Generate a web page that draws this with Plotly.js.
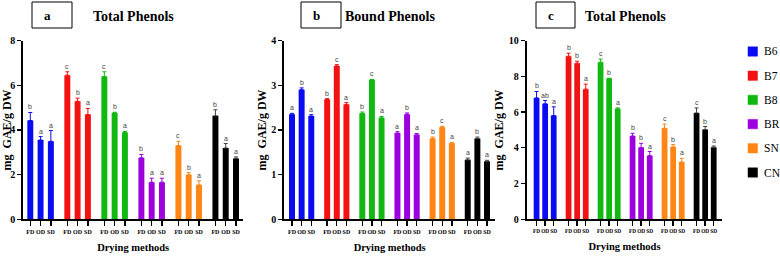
<!DOCTYPE html>
<html>
<head>
<meta charset="utf-8">
<script src="https://cdn.plot.ly/plotly-3.0.1.min.js"></script>
<style>html,body{margin:0;padding:0;background:#fff;}#chart{width:780px;height:257px;}</style>
</head>
<body>
<div id="chart"></div>
<script>
// ---- data ----
const methods = ['FD', 'OD', 'SD'];
const series = ['B6', 'B7', 'B8', 'BR', 'SN', 'CN'];
const colors = ['#0B0BF2', '#F21212', '#12B812', '#9C00DE', '#FF8514', '#000000'];

const panelTitles = ['Total Phenols', 'Bound Phenols', 'Total Phenols'];
const panelLetters = ['a', 'b', 'c'];

// panel a : Total Phenols (mg GAE/g DW)
const aMean = [[4.42, 3.55, 3.49], [6.45, 5.28, 4.69], [6.39, 4.76, 3.88], [2.75, 1.66, 1.66], [3.30, 1.99, 1.54], [4.63, 3.19, 2.72]];
const aErr  = [[0.36, 0.15, 0.48], [0.15, 0.14, 0.27], [0.21, 0.03, 0.05], [0.15, 0.18, 0.18], [0.19, 0.10, 0.18], [0.27, 0.20, 0.07]];
const aSig  = [['b', 'a', 'a'], ['c', 'b', 'a'], ['c', 'b', 'a'], ['b', 'a', 'a'], ['c', 'b', 'a'], ['b', 'a', 'a']];

// panel b : Bound Phenols
const bMean = [[2.35, 2.90, 2.31], [2.68, 3.43, 2.57], [2.37, 3.12, 2.27], [1.93, 2.35, 1.89], [1.81, 2.06, 1.70], [1.33, 1.81, 1.30]];
const bErr  = [[0.02, 0.04, 0.03], [0.02, 0.03, 0.04], [0.03, 0.01, 0.03], [0.03, 0.03, 0.03], [0.03, 0.02, 0.02], [0.04, 0.03, 0.02]];
const bSig  = [['a', 'b', 'a'], ['b', 'c', 'a'], ['b', 'c', 'a'], ['a', 'b', 'a'], ['b', 'c', 'a'], ['a', 'b', 'a']];

// panel c : Total Phenols
const cMean = [[6.79, 6.46, 5.80], [9.12, 8.73, 7.28], [8.79, 7.87, 6.18], [4.66, 4.01, 3.56], [5.09, 4.05, 3.21], [5.95, 5.02, 4.03]];
const cErr  = [[0.36, 0.18, 0.49], [0.17, 0.11, 0.28], [0.17, 0.02, 0.05], [0.15, 0.24, 0.23], [0.23, 0.13, 0.20], [0.28, 0.17, 0.07]];
const cSig  = [['b', 'ab', 'a'], ['b', 'b', 'a'], ['c', 'b', 'a'], ['b', 'b', 'a'], ['c', 'b', 'a'], ['c', 'b', 'a']];

const yMax = [8, 4, 10];
const yStep = [2, 1, 2];

// ---- layout helpers ----
const W = 780, H = 257;
const px = v => v / W;
const py = v => 1 - v / H;
const serif = 'Liberation Serif, Times New Roman, serif';

const panels = [
  {mean: aMean, err: aErr, sig: aSig, G: 3.6,  bw: 0.58, range: [-0.68, 20.68], dom: [23.3, 243],   title: 133,   box: [32, 72],   tf: 6},
  {mean: bMean, err: bErr, sig: bSig, G: 3.65, bw: 0.62, range: [-0.80, 21.08], dom: [284.3, 495],  title: 389.5, box: [301, 341], tf: 6},
  {mean: cMean, err: cErr, sig: cSig, G: 3.73, bw: 0.67, range: [-1.15, 21.65], dom: [526.7, 722.3], title: 625,  box: [536, 575], tf: 5.3}
];

const traces = [];
const annotations = [];
const shapes = [];
const layout = {
  width: W, height: H,
  margin: {l: 0, r: 0, t: 0, b: 0},
  paper_bgcolor: '#fff', plot_bgcolor: '#fff',
  showlegend: false,
  barmode: 'overlay',
  annotations: annotations,
  shapes: shapes
};

panels.forEach((p, k) => {
  const sfx = k === 0 ? '' : String(k + 1);
  const xa = 'x' + sfx, ya = 'y' + sfx;
  const tickvals = [], ticktext = [];
  series.forEach((s, g) => {
    const xs = methods.map((m, j) => g * p.G + j);
    xs.forEach((x, j) => { tickvals.push(x); ticktext.push(methods[j]); });
    traces.push({
      type: 'bar', name: s, x: xs, y: p.mean[g], width: p.bw,
      xaxis: xa, yaxis: ya,
      marker: {color: colors[g], line: {width: 0}},
      error_y: {type: 'data', array: p.err[g], arrayminus: [0, 0, 0], symmetric: false,
                color: g === 5 ? '#444' : colors[g], thickness: 1, width: 2},
      hoverinfo: 'skip'
    });
    xs.forEach((x, j) => {
      annotations.push({
        xref: xa, yref: ya, x: x, y: p.mean[g][j] + p.err[g][j],
        text: p.sig[g][j], showarrow: false, xanchor: 'center', yanchor: 'bottom', yshift: 0,
        font: {family: 'Liberation Sans, Arial, sans-serif', size: 7, color: '#444'}
      });
    });
  });
  layout['xaxis' + sfx] = {
    domain: [px(p.dom[0]), px(p.dom[1])], anchor: ya, range: p.range,
    showline: true, linewidth: 2, linecolor: '#000', showgrid: false, zeroline: false,
    ticks: 'outside', ticklen: 5, tickwidth: 1.3, tickcolor: '#000',
    tickmode: 'array', tickvals: tickvals, ticktext: ticktext, tickangle: 0,
    tickfont: {family: serif, size: p.tf, color: '#000', weight: 'bold'},
    title: {text: 'Drying methods', standoff: 10, font: {family: serif, size: 10.5, color: '#000', weight: 'bold'}},
    fixedrange: true
  };
  layout['yaxis' + sfx] = {
    domain: [py(219.3), py(40.5)], anchor: xa, range: [0, yMax[k]], dtick: yStep[k],
    showline: true, linewidth: 2, linecolor: '#000', showgrid: false, zeroline: false,
    ticks: 'outside', ticklen: 4, tickwidth: 1.3, tickcolor: '#000',
    tickfont: {family: serif, size: 10, color: '#000', weight: 'bold'},
    title: {text: 'mg  GAE/g DW', standoff: 2, font: {family: serif, size: 12, color: '#000', weight: 'bold'}},
    fixedrange: true
  };
  // panel letter box + title
  shapes.push({type: 'rect', xref: 'paper', yref: 'paper', x0: px(p.box[0]), x1: px(p.box[1]), y0: py(28), y1: py(2),
               line: {color: '#000', width: 1}});
  annotations.push({xref: 'paper', yref: 'paper', x: px(p.box[0] + 15), y: py(15), xanchor: 'center', yanchor: 'middle',
                    text: panelLetters[k], showarrow: false,
                    font: {family: serif, size: 13, color: '#000', weight: 'bold'}});
  annotations.push({xref: 'paper', yref: 'paper', x: px(p.title), y: py(16), xanchor: 'center', yanchor: 'middle',
                    text: panelTitles[k], showarrow: false,
                    font: {family: serif, size: 14, color: '#000', weight: 'bold'}});
});

// manual legend
series.forEach((s, g) => {
  const cy = 51.5 + g * 24.2;
  shapes.push({type: 'rect', xref: 'paper', yref: 'paper', x0: px(748), x1: px(757.5), y0: py(cy + 4.7), y1: py(cy - 4.7),
               fillcolor: colors[g], line: {color: colors[g], width: 0.5}});
  annotations.push({xref: 'paper', yref: 'paper', x: px(762), y: py(cy), xanchor: 'left', yanchor: 'middle',
                    text: s, showarrow: false,
                    font: {family: serif, size: 11.5, color: '#000'}});
});

Plotly.newPlot('chart', traces, layout, {staticPlot: true, displayModeBar: false});
</script>
</body>
</html>
